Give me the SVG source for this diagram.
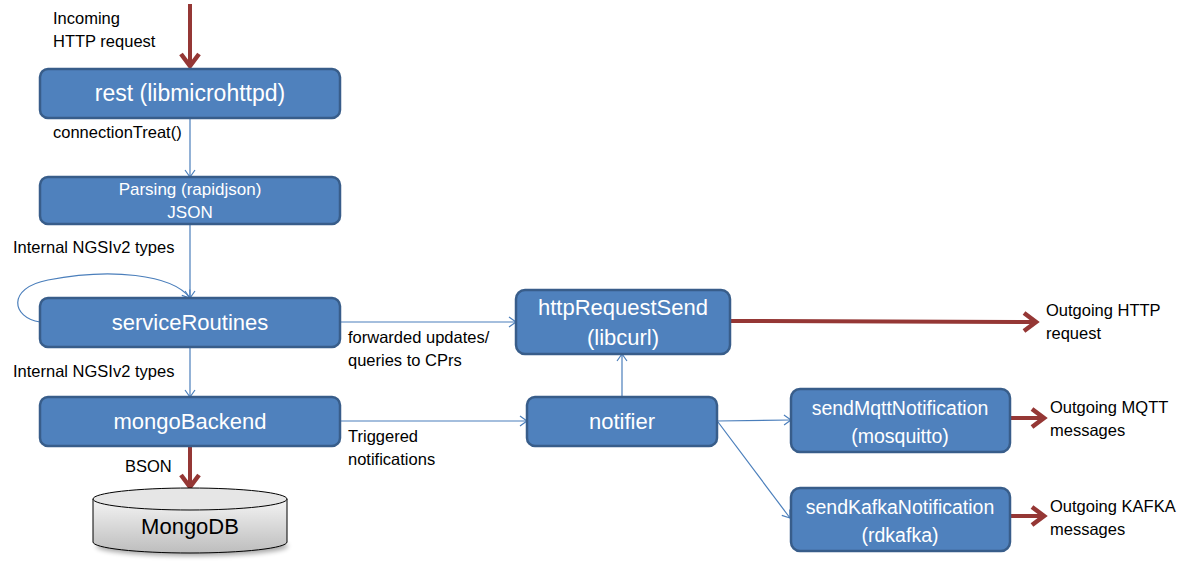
<svg xmlns="http://www.w3.org/2000/svg" width="1192" height="562" viewBox="0 0 1192 562">
<style>
.box{fill:#4F81BD;stroke:#385D8A;stroke-width:2.5}
.bt{font-family:"Liberation Sans",Arial,sans-serif;fill:#ffffff;text-anchor:middle}
.lbl{font-family:"Liberation Sans",Arial,sans-serif;fill:#000000;font-size:16.5px}
.thin{fill:none;stroke:#4A7EBB;stroke-width:1.2;marker-end:url(#bh)}
.red{fill:none;stroke:#953735;stroke-width:4;marker-end:url(#rh)}
</style>
<defs>
<marker id="bh" markerUnits="userSpaceOnUse" viewBox="0 0 12 12" refX="11" refY="6" markerWidth="12" markerHeight="12" orient="auto">
<path d="M4,1 L11,6 L4,11" fill="none" stroke="#4A7EBB" stroke-width="1.2"/>
</marker>
<marker id="rh" markerUnits="userSpaceOnUse" viewBox="0 0 24 24" refX="21" refY="12" markerWidth="24" markerHeight="24" orient="auto">
<path d="M8,3 L20,12 L8,21" fill="none" stroke="#953735" stroke-width="4.5"/>
</marker>
<linearGradient id="cyl" x1="0" y1="0" x2="0" y2="1">
<stop offset="0" stop-color="#f4f4f4"/>
<stop offset="1" stop-color="#bdbdbd"/>
</linearGradient>
<filter id="sh" x="-20%" y="-20%" width="140%" height="160%">
<feGaussianBlur stdDeviation="2.5"/>
</filter>
</defs>
<rect width="1192" height="562" fill="#ffffff"/>

<g id="connectors">
<path class="red" d="M190,4 L190,67"/>
<path class="thin" d="M190,118 L190,177"/>
<path class="thin" d="M190,224 L190,298"/>
<path class="thin" d="M40,322 C12,318 6,288 48,280 C110,268 172,274 190,298"/>
<path class="thin" d="M190,347 L190,397"/>
<path class="red" d="M190,446 L190,488"/>
<path class="thin" d="M340,322 L516,322"/>
<path class="thin" d="M340,421 L527,421"/>
<path class="thin" d="M622,397 L622,354"/>
<path class="thin" d="M717,421 L791,420"/>
<path class="thin" d="M718,422 L790,518"/>
<path class="red" d="M730,321 L1037,322"/>
<path class="red" d="M1010,418 L1045,418"/>
<path class="red" d="M1010,516 L1045,516"/>
</g>

<g id="labels">
<text class="lbl" x="53" y="24">Incoming</text>
<text class="lbl" x="53" y="47">HTTP request</text>
<text class="lbl" x="53" y="138">connectionTreat()</text>
<text class="lbl" x="13" y="253">Internal NGSIv2 types</text>
<text class="lbl" x="13" y="377">Internal NGSIv2 types</text>
<text class="lbl" x="125" y="472">BSON</text>
<text class="lbl" x="348" y="343">forwarded updates/</text>
<text class="lbl" x="348" y="366">queries to CPrs</text>
<text class="lbl" x="348" y="442">Triggered</text>
<text class="lbl" x="348" y="465">notifications</text>
<text class="lbl" x="1046" y="316">Outgoing HTTP</text>
<text class="lbl" x="1046" y="339">request</text>
<text class="lbl" x="1050" y="413">Outgoing MQTT</text>
<text class="lbl" x="1050" y="436">messages</text>
<text class="lbl" x="1050" y="512">Outgoing KAFKA</text>
<text class="lbl" x="1050" y="535">messages</text>
</g>

<g id="rest">
<rect class="box" x="40" y="69" width="300" height="49" rx="8"/>
<text class="bt" x="190" y="101" font-size="23">rest (libmicrohttpd)</text>
</g>
<g id="parsing">
<rect class="box" x="40" y="177" width="300" height="47" rx="8"/>
<text class="bt" x="190" y="195" font-size="17">Parsing (rapidjson)</text>
<text class="bt" x="190" y="218" font-size="17">JSON</text>
</g>
<g id="serviceRoutines">
<rect class="box" x="40" y="298" width="300" height="49" rx="8"/>
<text class="bt" x="190" y="330" font-size="22">serviceRoutines</text>
</g>
<g id="mongoBackend">
<rect class="box" x="40" y="397" width="300" height="49" rx="8"/>
<text class="bt" x="190" y="429" font-size="22">mongoBackend</text>
</g>
<g id="mongodb">
<ellipse cx="192" cy="546" rx="96" ry="10" fill="#000" opacity="0.35" filter="url(#sh)"/>
<path d="M93,499 L93,542 A97,11 0 0 0 287,542 L287,499" fill="url(#cyl)" stroke="#000" stroke-width="1"/>
<ellipse cx="190" cy="499" rx="97" ry="11" fill="#e6e6e6" stroke="#000" stroke-width="1"/>
<text x="190" y="534" font-family="Liberation Sans,Arial,sans-serif" font-size="22" text-anchor="middle" fill="#000">MongoDB</text>
</g>
<g id="httpRequestSend">
<rect class="box" x="516" y="290" width="214" height="64" rx="9"/>
<text class="bt" x="623" y="315" font-size="22">httpRequestSend</text>
<text class="bt" x="623" y="345" font-size="22">(libcurl)</text>
</g>
<g id="notifier">
<rect class="box" x="527" y="397" width="190" height="49" rx="8"/>
<text class="bt" x="622" y="429" font-size="22">notifier</text>
</g>
<g id="sendMqttNotification">
<rect class="box" x="791" y="389" width="219" height="63" rx="9"/>
<text class="bt" x="900" y="415" font-size="19.5">sendMqttNotification</text>
<text class="bt" x="900" y="443" font-size="19.5">(mosquitto)</text>
</g>
<g id="sendKafkaNotification">
<rect class="box" x="791" y="488" width="219" height="63" rx="9"/>
<text class="bt" x="900" y="514" font-size="19.5">sendKafkaNotification</text>
<text class="bt" x="900" y="542" font-size="19.5">(rdkafka)</text>
</g>
</svg>
